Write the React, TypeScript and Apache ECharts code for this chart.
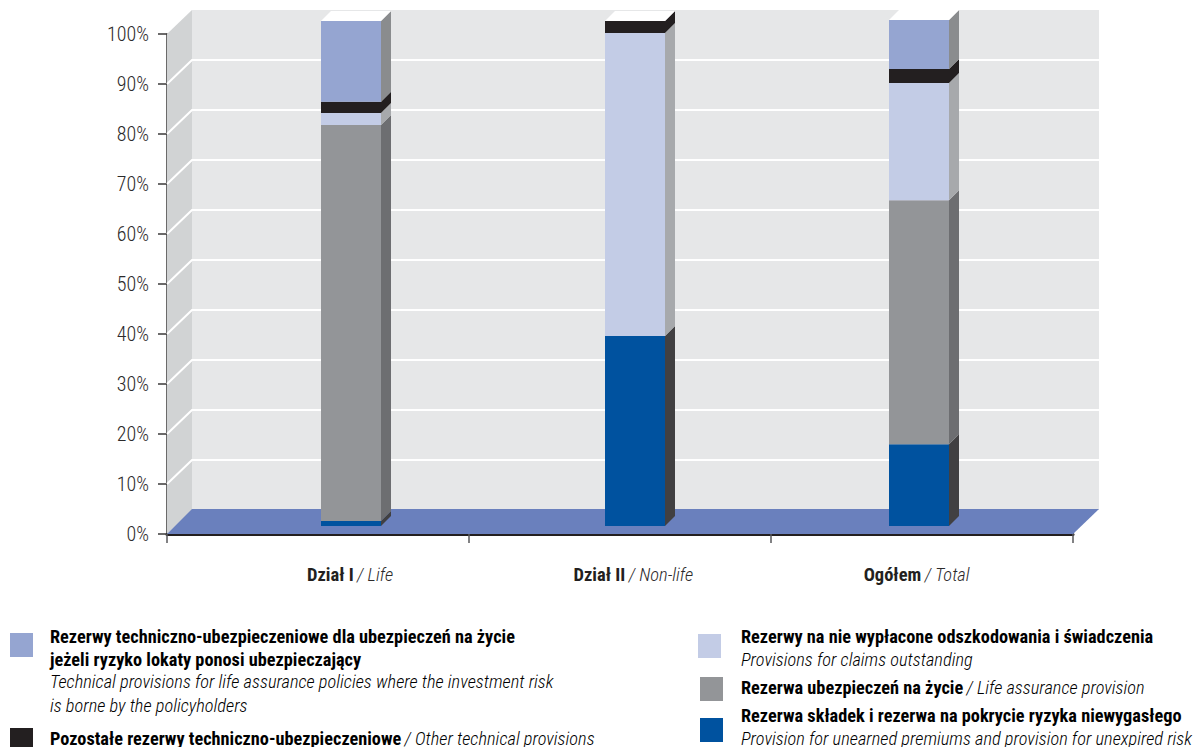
import React, { useEffect, useRef } from "react";
import * as echarts from "echarts";

const FONT = '"Roboto Condensed", "Liberation Sans", sans-serif';
const FONT_LIGHT = '"Roboto Condensed Light", "Roboto Condensed", "Liberation Sans", sans-serif';
const INK = "#231f20";

const categoriesPl = ["Dział I", "Dział II", "Ogółem"];
const categoriesEn = ["Life", "Non-life", "Total"];
const yTicks = [0, 10, 20, 30, 40, 50, 60, 70, 80, 90, 100];

// Stacked shares (bottom to top), percent, per category
const unearnedPremiums = [1.0, 37.6, 16.2];
const lifeAssurance = [78.4, 0, 48.3];
const claimsOutstanding = [2.4, 60.0, 23.2];
const otherProvisions = [2.2, 2.4, 2.8];
const investmentRisk = [16.0, 0, 9.7];

const layers = [
  { name: "Rezerwa składek i rezerwa na pokrycie ryzyka niewygasłego", values: unearnedPremiums, front: "#00529f", side: "#414042" },
  { name: "Rezerwa ubezpieczeń na życie", values: lifeAssurance, front: "#939598", side: "#6d6e71" },
  { name: "Rezerwy na nie wypłacone odszkodowania i świadczenia", values: claimsOutstanding, front: "#c3cce6", side: "#a7a9ac" },
  { name: "Pozostałe rezerwy techniczno-ubezpieczeniowe", values: otherProvisions, front: INK, side: INK },
  { name: "Rezerwy techniczno-ubezpieczeniowe dla ubezpieczeń na życie jeżeli ryzyko lokaty ponosi ubezpieczający", values: investmentRisk, front: "#95a5d1", side: "#8a8c8e" },
];

const legendLeft = [
  { swatch: "#95a5d1", sx: 10, sy: 633, lines: [
    { y: 636, t: "{b|Rezerwy techniczno-ubezpieczeniowe dla ubezpieczeń na życie}" },
    { y: 659, t: "{b|jeżeli ryzyko lokaty ponosi ubezpieczający}" },
    { y: 681, t: "{i|Technical provisions for life assurance policies where the investment risk}" },
    { y: 705, t: "{i|is borne by the policyholders}" },
  ], x: 50 },
  { swatch: INK, sx: 10, sy: 728, lines: [
    { y: 738, t: "{b|Pozostałe rezerwy techniczno-ubezpieczeniowe} {i|/ Other technical provisions}" },
  ], x: 50 },
];
const legendRight = [
  { swatch: "#c3cce6", sx: 698, sy: 634, lines: [
    { y: 636, t: "{b|Rezerwy na nie wypłacone odszkodowania i świadczenia}" },
    { y: 659, t: "{i|Provisions for claims outstanding}" },
  ], x: 741 },
  { swatch: "#939598", sx: 700, sy: 677, lines: [
    { y: 687, t: "{b|Rezerwa ubezpieczeń na życie} {i|/ Life assurance provision}" },
  ], x: 741 },
  { swatch: "#00529f", sx: 700, sy: 718, lines: [
    { y: 715, t: "{b|Rezerwa składek i rezerwa na pokrycie ryzyka niewygasłego}" },
    { y: 738, t: "{i|Provision for unearned premiums and provision for unexpired risk}" },
  ], x: 741 },
];

const DEPTH_X = 25;
const DEPTH_Y = 24;
const BAR_DX = 10;
const BAR_DY = 10;
const BAR_HALF = 30;

export default function App() {
  const ref = useRef<HTMLDivElement>(null);
  useEffect(() => {
    document.body.style.margin = "0";
    const chart = echarts.init(ref.current!, null, { renderer: "svg" });

    const rich = {
      b: { fontFamily: FONT, fontWeight: "bold", fontSize: 18.3, color: INK },
      i: { fontFamily: FONT_LIGHT, fontStyle: "italic", fontSize: 18.4, color: "#2c2a2b" },
    };

    const legendGraphics: any[] = [];
    [...legendLeft, ...legendRight].forEach((e) => {
      legendGraphics.push({
        type: "rect",
        shape: { x: e.sx, y: e.sy, width: 23, height: 24 },
        style: { fill: e.swatch },
      });
      e.lines.forEach((l) => {
        legendGraphics.push({
          type: "text",
          x: e.x,
          y: l.y,
          style: { text: l.t, rich, verticalAlign: "middle", align: "left" },
        });
      });
    });

    const cumulative = categoriesPl.map(() => 0);
    const layerSeries = layers.map((layer) => {
      const data = layer.values.map((v, i) => {
        const start = cumulative[i];
        cumulative[i] += v;
        return [i, start, cumulative[i]];
      });
      return {
        type: "custom",
        name: layer.name,
        xAxisIndex: 1,
        yAxisIndex: 1,
        z: 5,
        silent: true,
        data,
        renderItem: (_p: any, api: any) => {
          const cat = api.value(0);
          const from = api.value(1);
          const to = api.value(2);
          if (to - from <= 0) return { type: "group", children: [] };
          const [cx, y0] = api.coord([cat, from]);
          const [, y1] = api.coord([cat, to]);
          const l = cx - BAR_HALF;
          const r = cx + BAR_HALF;
          return {
            type: "group",
            children: [
              {
                type: "polygon",
                shape: { points: [[r, y0], [r + BAR_DX, y0 - BAR_DY], [r + BAR_DX, y1 - BAR_DY], [r, y1]] },
                style: { fill: layer.side },
              },
              {
                type: "polygon",
                shape: { points: [[l, y0], [r, y0], [r, y1], [l, y1]] },
                style: { fill: layer.front },
              },
            ],
          };
        },
      };
    });

    const option: any = {
      animation: false,
      graphic: legendGraphics,
      grid: [
        { left: 167, width: 906, top: 34, height: 500 },
        { left: 209, width: 852, top: 21, height: 505 },
        { left: 208.4, width: 850, top: 21, height: 505 },
      ],
      xAxis: [
        {
          gridIndex: 0,
          type: "category",
          data: categoriesPl,
          boundaryGap: true,
          axisLine: { lineStyle: { color: INK, width: 3 } },
          axisTick: { show: true, length: 9, lineStyle: { color: "#58595b", width: 1.5 } },
          axisLabel: { show: false },
          splitLine: { show: false },
        },
        {
          gridIndex: 1,
          type: "category",
          data: categoriesPl,
          axisLine: { show: false },
          axisTick: { show: false },
          axisLabel: { show: false },
        },
        {
          gridIndex: 2,
          type: "category",
          data: categoriesPl.map((c, i) => c + "|" + categoriesEn[i]),
          axisLine: { show: false },
          axisTick: { show: false },
          axisLabel: {
            margin: 39,
            formatter: (v: string) => {
              const [pl, en] = v.split("|");
              return `{b|${pl}} {i|/ ${en}}`;
            },
            rich: {
              b: { fontFamily: FONT, fontWeight: "bold", fontSize: 18.5, color: INK },
              i: { fontFamily: FONT_LIGHT, fontStyle: "italic", fontSize: 18.5, color: "#2c2a2b" },
            },
          },
        },
      ],
      yAxis: [
        {
          gridIndex: 0,
          type: "value",
          min: 0,
          max: 100,
          interval: 10,
          axisLine: { show: true, onZero: false, lineStyle: { color: "#3a3839", width: 1.5 } },
          axisTick: { show: true, length: 9, lineStyle: { color: "#3a3839", width: 1.5 } },
          splitLine: { show: false },
          axisLabel: {
            margin: 18,
            formatter: "{value}%",
            fontFamily: FONT_LIGHT,
            fontSize: 20,
            color: "#2c2a2b",
          },
        },
        { gridIndex: 1, type: "value", min: 0, max: 100, show: false },
        { gridIndex: 2, type: "value", min: 0, max: 100, show: false },
      ],
      series: [
        {
          type: "custom",
          name: "walls",
          xAxisIndex: 0,
          yAxisIndex: 0,
          z: 1,
          silent: true,
          data: [[0, 0, 100]],
          renderItem: (params: any, api: any) => {
            const cs = params.coordSys;
            const x0 = cs.x;
            const x1 = cs.x + cs.width + 1;
            const yb = api.coord([0, api.value(1)])[1];
            const yt = api.coord([0, api.value(2)])[1];
            const bx = x0 + DEPTH_X;
            const bx1 = x1 + DEPTH_X;
            return {
              type: "group",
              children: [
                { type: "polygon", shape: { points: [[bx, yt - DEPTH_Y], [bx1, yt - DEPTH_Y], [bx1, yb - DEPTH_Y], [bx, yb - DEPTH_Y]] }, style: { fill: "#e6e7e8" } },
                { type: "polygon", shape: { points: [[x0, yt], [bx, yt - DEPTH_Y], [bx, yb - DEPTH_Y], [x0, yb]] }, style: { fill: "#d1d3d4" } },
              ],
            };
          },
        },
        {
          type: "custom",
          name: "gridlines",
          xAxisIndex: 0,
          yAxisIndex: 0,
          z: 2,
          silent: true,
          data: yTicks.filter((t) => t > 0 && t < 100).map((t) => [0, t]),
          renderItem: (params: any, api: any) => {
            const cs = params.coordSys;
            const y = api.coord([0, api.value(1)])[1];
            const x0 = cs.x;
            const x1 = cs.x + cs.width + 1;
            return {
              type: "polyline",
              shape: { points: [[x0, y], [x0 + DEPTH_X, y - DEPTH_Y], [x1 + DEPTH_X, y - DEPTH_Y]] },
              style: { fill: "none", stroke: "#ffffff", lineWidth: 2 },
            };
          },
        },
        {
          type: "custom",
          name: "floor",
          xAxisIndex: 0,
          yAxisIndex: 0,
          z: 3,
          silent: true,
          data: [[0, 0]],
          renderItem: (params: any, api: any) => {
            const cs = params.coordSys;
            const y = api.coord([0, api.value(1)])[1];
            const x0 = cs.x;
            const x1 = cs.x + cs.width;
            return {
              type: "polygon",
              shape: { points: [[x0, y], [x1, y], [x1 + DEPTH_X + 1, y - DEPTH_Y - 1], [x0 + DEPTH_X, y - DEPTH_Y - 1]] },
              style: { fill: "#6a80bd" },
            };
          },
        },
        ...layerSeries,
        {
          type: "custom",
          name: "bar tops",
          xAxisIndex: 1,
          yAxisIndex: 1,
          z: 6,
          silent: true,
          data: cumulative.map((t, i) => [i, t]),
          renderItem: (_p: any, api: any) => {
            const [cx, y] = api.coord([api.value(0), api.value(1)]);
            const l = cx - BAR_HALF;
            const r = cx + BAR_HALF;
            return {
              type: "polygon",
              shape: { points: [[l, y], [r, y], [r + BAR_DX, y - BAR_DY], [l + BAR_DX, y - BAR_DY]] },
              style: { fill: "#ffffff" },
            };
          },
        },
      ],
    };
    chart.setOption(option);
    return () => chart.dispose();
  }, []);
  return <div ref={ref} style={{ position: "absolute", left: 0, top: 0, width: 1200, height: 747, overflow: "hidden" }} />;
}
